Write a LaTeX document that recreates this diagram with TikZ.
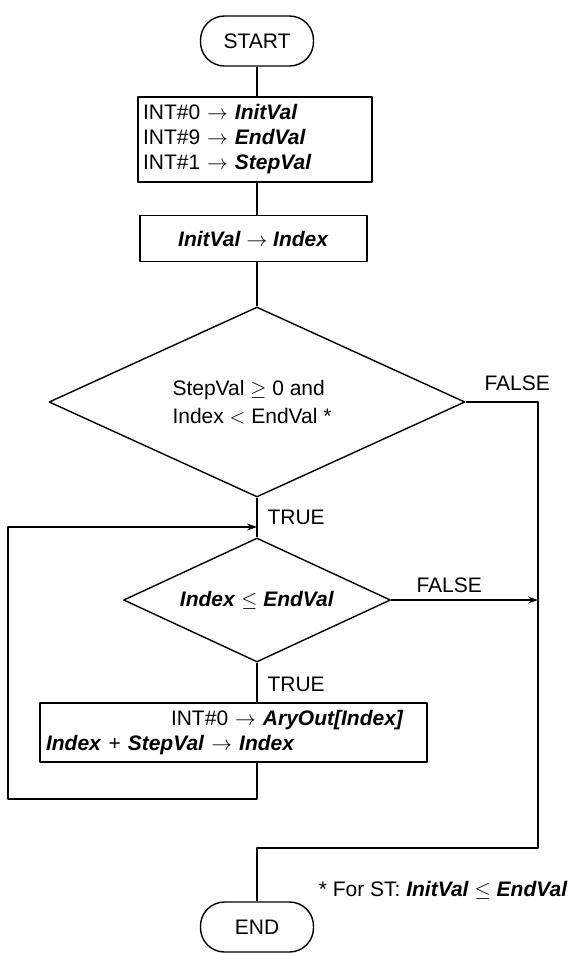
\documentclass[tikz,border=0pt]{standalone}
\usepackage{fontspec}
\setmainfont{Liberation Sans}
\usetikzlibrary{shapes.geometric,arrows.meta}
\newcommand{\bi}[1]{\textbf{\textit{#1}}}
\begin{document}
\begin{tikzpicture}[x=1pt,y=-1pt,font=\fontsize{21}{25}\selectfont,line join = round, >= {Stealth[length=10pt,width=7pt]},
	term/.style={draw,line width=1.4pt,rounded corners=24pt,minimum width=113pt,minimum height=50pt,inner sep=0pt},
	box/.style={draw,line width=1.4pt,inner sep=4pt},
	cond/.style={draw,diamond,line width=1.4pt,inner sep=0pt},
	flow/.style={line width=1.2pt}]
	\useasboundingbox (0,0) rectangle (576,954);
	% nodes
	\node[term] (start) at (257,41) {START};
	\node[box,minimum width=234pt,minimum height=85pt,text width=224pt,align=left,inner xsep=5pt] (init) at (255,139.5)
		{INT\#0 $\rightarrow$ \bi{InitVal}\\INT\#9 $\rightarrow$ \bi{EndVal}\\INT\#1 $\rightarrow$ \bi{StepVal}};
	\node[box,minimum width=227pt,minimum height=46pt] (setidx) at (253.5,238.5) {\bi{InitVal} $\rightarrow$ \bi{Index}};
	\node[cond,aspect=2.19,minimum width=416pt,minimum height=190pt,align=left] (check) at (257,402)
		{StepVal $\geq$ 0 and\\[3pt]Index $<$ EndVal *\hspace*{10pt}};
	\node[cond,aspect=2.15,minimum width=267pt,minimum height=124pt] (loop) at (257,600) {\bi{Index} $\leq$ \bi{EndVal}};
	\node[box,minimum width=387pt,minimum height=59pt,text width=375pt,align=left] (body) at (233.5,732.5)
		{\hspace*{125pt}INT\#0 $\rightarrow$ \bi{AryOut[Index]}\\\bi{Index} + \bi{StepVal} $\rightarrow$ \bi{Index}};
	\node[term] (end) at (257,927) {END};
	% labels
	\draw (481,383) node[anchor=west]{FALSE} (264,517) node[anchor=west]{TRUE};
	\draw (413,585) node[anchor=west]{FALSE} (264,684) node[anchor=west]{TRUE};
	\draw (571,890) node[anchor=east]{* For ST: \bi{InitVal} $\leq$ \bi{EndVal}};
	% helper points
	\coordinate (fcol) at (538,848);
	\coordinate (lb) at (8,799);
	\coordinate (merge) at (257,527);
	% connectors
	\draw[flow] (start) -- (start |- init.north);
	\draw[flow] (init.south -| start) -- (setidx.north -| start);
	\draw[flow] (setidx.south -| start) -- (check.north);
	\draw[flow] (check.east) -| (fcol) -- (fcol -| end) -- (end);
	\draw[flow] (check.south) -- (loop.north);
	\draw[flow,->] (loop.east) -- (loop.east -| fcol);
	\draw[flow] (loop.south) -- (loop.south |- body.north);
	\draw[flow,->] (loop.south |- body.south) -- (loop.south |- lb) -- (lb) |- (merge);
\end{tikzpicture}
\end{document}
